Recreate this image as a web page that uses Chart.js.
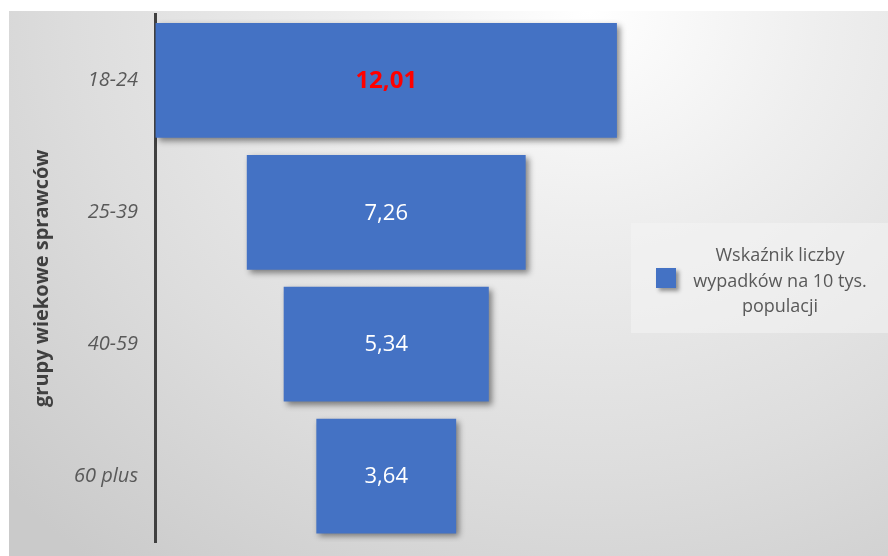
<!DOCTYPE html>
<html lang="pl">
<head>
<meta charset="utf-8">
<title>Wskaźnik liczby wypadków wg grup wiekowych sprawców</title>
<script src="https://cdn.jsdelivr.net/npm/chart.js@4.4.1/dist/chart.umd.min.js"></script>
<style>
  html, body { margin: 0; padding: 0; background: #fff; }
  #wrap { position: relative; width: 888px; height: 556px; overflow: hidden; }
  #backdrop {
    position: absolute; left: 9px; top: 11px; right: 0; bottom: 0;
    background: radial-gradient(ellipse 90% 130% at 66% 0%, #ffffff 0%, #eeeeee 30%, #dddddd 65%, #cacaca 100%);
  }
  #chart { position: absolute; left: 0; top: 0; }
  #legend {
    position: absolute; left: 631px; top: 223px; width: 257px; height: 110px;
    background: rgba(244, 244, 244, 0.55);
    font-family: "Open Sans", sans-serif; color: #595959;
  }
  #legend .swatch {
    position: absolute; left: 25px; top: 45px; width: 20px; height: 20px;
    background: #4472C4; box-shadow: 3px 3px 4px rgba(0, 0, 0, 0.4);
  }
  #legend .text {
    position: absolute; left: 52px; top: 19px; width: 194px;
    font-size: 18px; line-height: 25.5px; text-align: center;
  }
</style>
</head>
<body>
<div id="wrap">
  <div id="backdrop"></div>
  <canvas id="chart" width="888" height="556"></canvas>
  <div id="legend"><div class="swatch"></div><div class="text"></div></div>
</div>
<script>
const ageGroups = ['18-24', '25-39', '40-59', '60 plus'];
const accidentRate = [12.01, 7.26, 5.34, 3.64];
const seriesLabel = 'Wskaźnik liczby wypadków na 10 tys. populacji';
const axisTitle = 'grupy wiekowe sprawców';

const barColor = '#4472C4';
const fontFamily = '"Open Sans", sans-serif';

// each bar is centred on zero, so the chart reads as a funnel
const funnelData = accidentRate.map(v => [-v / 2, v / 2]);

function formatValue(v) {
    return v.toFixed(2).replace('.', ',');
}

// soft drop shadow under the bars
const barShadow = {
    id: 'barShadow',
    beforeDatasetsDraw(chart) {
        const ctx = chart.ctx;
        ctx.save();
        ctx.shadowColor = 'rgba(0, 0, 0, 0.45)';
        ctx.shadowBlur = 6;
        ctx.shadowOffsetX = 3;
        ctx.shadowOffsetY = 3;
    },
    afterDatasetsDraw(chart) {
        chart.ctx.restore();
    }
};

// value printed in the middle of each bar, the largest one in bold red
const valueLabels = {
    id: 'valueLabels',
    afterDatasetsDraw(chart) {
        const ctx = chart.ctx;
        const meta = chart.getDatasetMeta(0);
        const top = Math.max(...accidentRate);
        ctx.save();
        ctx.textAlign = 'center';
        ctx.textBaseline = 'middle';
        meta.data.forEach((bar, i) => {
            const v = accidentRate[i];
            const highlight = v === top;
            ctx.font = highlight ? 'bold 24px ' + fontFamily : '22px ' + fontFamily;
            ctx.fillStyle = highlight ? '#ff0000' : '#ffffff';
            const cx = (bar.base + bar.x) / 2;
            ctx.fillText(formatValue(v), cx, bar.y + 1);
        });
        ctx.restore();
    }
};

const ctx = document.getElementById('chart').getContext('2d');
const chart = new Chart(ctx, {
    type: 'bar',
    data: {
        labels: ageGroups,
        datasets: [{
            label: seriesLabel,
            data: funnelData,
            backgroundColor: barColor,
            borderWidth: 0,
            borderSkipped: false,
            categoryPercentage: 1,
            barPercentage: 0.87
        }]
    },
    options: {
        indexAxis: 'y',
        responsive: false,
        animation: false,
        layout: { padding: { top: 14.5, bottom: 14, left: 0, right: 7 } },
        plugins: {
            legend: { display: false },
            tooltip: { enabled: false }
        },
        scales: {
            x: {
                display: false,
                min: -6.02,
                max: 12.88
            },
            y: {
                afterFit(scale) {
                    scale.width = 155;
                    scale.paddingTop = 0;
                    scale.paddingBottom = 0;
                },
                grid: { display: false, drawTicks: false },
                border: { display: true, color: '#404040', width: 3 },
                ticks: {
                    padding: 17,
                    color: '#595959',
                    font: { family: fontFamily, size: 20, style: 'italic' }
                },
                title: {
                    display: true,
                    text: axisTitle,
                    color: '#404040',
                    padding: { top: 30 },
                    font: { family: fontFamily, size: 20, weight: 'bold' }
                }
            }
        }
    },
    plugins: [barShadow, valueLabels]
});

document.querySelector('#legend .text').textContent = chart.data.datasets[0].label;
</script>
</body>
</html>
